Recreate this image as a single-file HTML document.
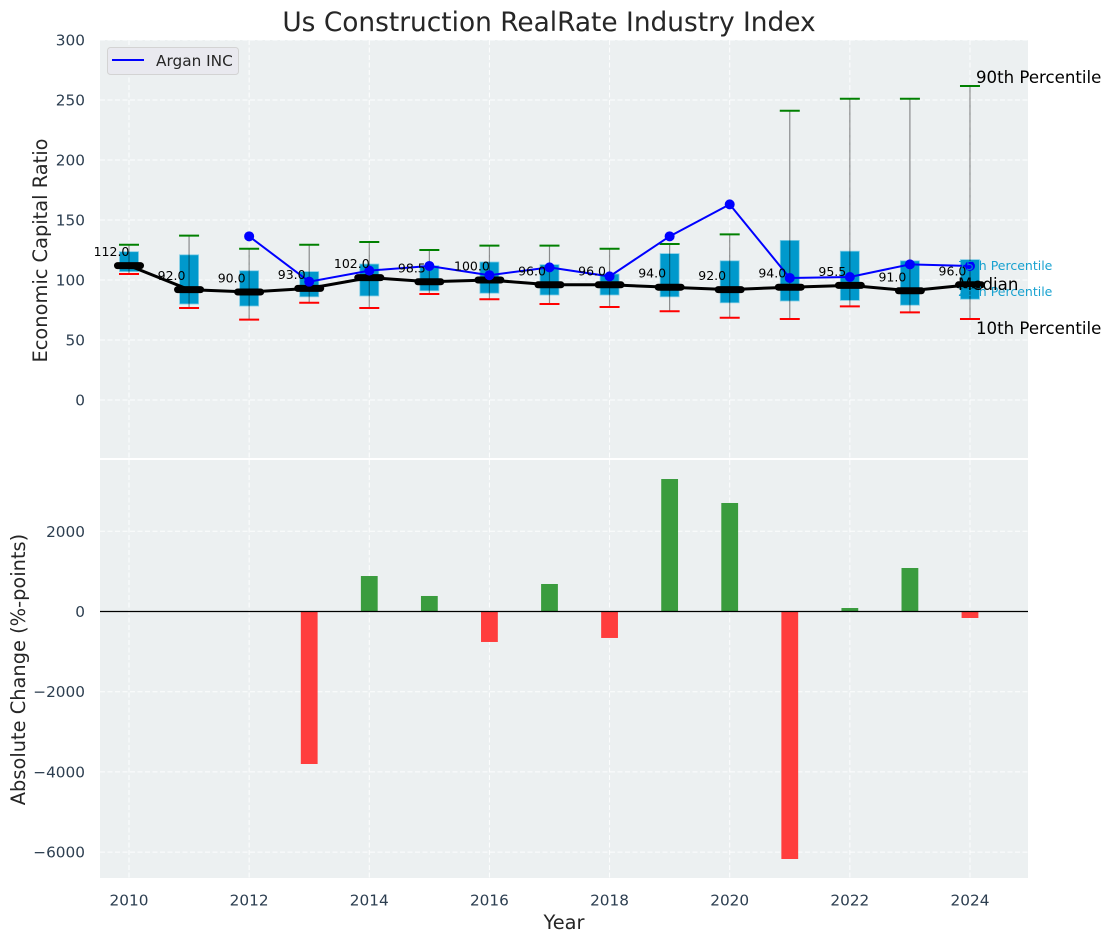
<!DOCTYPE html>
<html>
<head>
<meta charset="utf-8">
<title>Us Construction RealRate Industry Index</title>
<style>
html,body{margin:0;padding:0;background:#fff;}
svg{display:block;font-family:"DejaVu Sans","Liberation Sans",sans-serif;}
</style>
</head>
<body>
<svg id="chart" xmlns="http://www.w3.org/2000/svg" width="1111" height="942" viewBox="0 0 1111 942">
  <rect width="1111" height="942" fill="#ffffff"/>
  <text x="549" y="31" font-size="26.4" text-anchor="middle" fill="#262626">Us Construction RealRate Industry Index</text>
  <rect x="100" y="40" width="928" height="418" fill="#ecf0f1"/>
  <rect x="100" y="460" width="928" height="418" fill="#ecf0f1"/>
  <g id="grid"></g>
  <g id="boxes"></g>
  <g id="bars"></g>
  <g id="lines"></g>
  <g id="ticks" font-size="15.3" fill="#2c3e50"></g>
  <text transform="translate(47,250.5) rotate(-90)" font-size="19.4" text-anchor="middle" fill="#262626">Economic Capital Ratio</text>
  <text transform="translate(25,669.5) rotate(-90)" font-size="19.4" text-anchor="middle" fill="#262626">Absolute Change (%-points)</text>
  <text x="564" y="929" font-size="19.4" text-anchor="middle" fill="#262626">Year</text>
  <g>
    <rect x="107.500" y="47.500" width="131" height="27" rx="3" fill="#e9e9ef" stroke="#d3d3d3" stroke-width="1"/>
    <line x1="112" y1="60" x2="144" y2="60" stroke="#0000ff" stroke-width="2"/>
    <text x="156" y="66" font-size="15.3" fill="#262626">Argan INC</text>
  </g>
  <g id="annotations">
    <text x="958" y="270" font-size="12.5" fill="#0099cc" opacity="0.9">75th Percentile</text>
    <text x="958" y="296" font-size="12.5" fill="#0099cc" opacity="0.9">25th Percentile</text>
    <text x="976" y="83" font-size="16.6" fill="#000000">90th Percentile</text>
    <text x="958" y="290" font-size="16.6" fill="#000000">Median</text>
    <text x="976" y="334" font-size="16.6" fill="#000000">10th Percentile</text>
  </g>
</svg>
<script>
const years = [2010,2011,2012,2013,2014,2015,2016,2017,2018,2019,2020,2021,2022,2023,2024];
const p90 = [129.4,137,126,129.4,131.7,125,128.6,128.6,126,130,138,241,251,251,261.7];
const p75 = [123.6,121,107.7,107,113.3,112,115,112.8,105,122,116,133,124,116,117];
const median = [112,92,90,93,102,98.5,100,96,96,94,92,94,95.5,91,96];
const p25 = [107,80,78.3,86,86.7,91,89,87.5,87.5,86,81,82.5,83,79,84];
const p10 = [105,76.7,67,81,76.7,88.3,84,80,77.5,74,68.5,67.5,78,73,67.5];
const argan = [null,null,136.4,98.6,107.8,111.7,104,110.5,103,136.4,163,101.7,102.5,113,111.7];
const change = [null,null,null,-3803,885,387,-760,686,-660,3304,2706,-6172,87,1085,-162];
const xTickLabels = [2010,2012,2014,2016,2018,2020,2022,2024];
const yTopTicks = [0,50,100,150,200,250,300];
const yBottomTicks = [-6000,-4000,-2000,0,2000];

const NS = 'http://www.w3.org/2000/svg';
function xScale(year){ return 129 + (year - 2010) * 60.07; }
function yTop(v){ return 400 - 1.2 * v; }
function yBottom(v){ return 611.5 - 0.0401 * v; }
function make(tag, parentId, props){
  const el = document.createElementNS(NS, tag);
  for (const k in props) el.setAttribute(k, props[k]);
  document.getElementById(parentId).appendChild(el);
  return el;
}
const gridStyle = {stroke:'#ffffff','stroke-width':1,'stroke-dasharray':'5 2.5','stroke-opacity':0.9};

xTickLabels.forEach(function(t){
  const x = xScale(t);
  const a = make('line','grid',Object.assign({x1:x,x2:x,y1:40,y2:458},gridStyle));
  
  
  const b = make('line','grid',Object.assign({x1:x,x2:x,y1:460,y2:878},gridStyle));
  
  
  const lab = make('text','ticks',{x:x,y:905.5,'text-anchor':'middle'});
  
  
  lab.textContent = t;
});
yTopTicks.forEach(function(t){
  const y = yTop(t);
  const a = make('line','grid',Object.assign({x1:100,x2:1028,y1:y,y2:y},gridStyle));
  
  
  const lab = make('text','ticks',{x:85,y:y+5.5,'text-anchor':'end'});
  
  
  lab.textContent = t;
});
yBottomTicks.forEach(function(t){
  const y = yBottom(t);
  const a = make('line','grid',Object.assign({x1:100,x2:1028,y1:y,y2:y},gridStyle));
  
  
  const lab = make('text','ticks',{x:85,y:y+5.5,'text-anchor':'end'});
  
  
  lab.textContent = String(t).replace('-','\u2212');
});

years.forEach(function(yr,i){
  const x = xScale(yr);
  const box = make('rect','boxes',{x:x-9.5,y:yTop(p75[i]),width:19,height:yTop(p25[i])-yTop(p75[i]),fill:'#0099cc',stroke:'#7fcce5','stroke-width':0.8});
  
  
  const w = make('line','boxes',{x1:x,x2:x,y1:yTop(p90[i]),y2:yTop(p10[i]),stroke:'#000000','stroke-width':1.2,'stroke-opacity':0.42});
  
  
  const c1 = make('line','boxes',{x1:x-10,x2:x+10,y1:yTop(p90[i]),y2:yTop(p90[i]),stroke:'#008000','stroke-width':2});
  
  
  const c2 = make('line','boxes',{x1:x-10,x2:x+10,y1:yTop(p10[i]),y2:yTop(p10[i]),stroke:'#ff0000','stroke-width':2});
  
  

  if (change[i] !== null) {
    const v = change[i];
    const y0 = yBottom(0), y1 = yBottom(v);
    const bar = make('rect','bars',{x:x-8.4,y:Math.min(y0,y1),width:16.8,height:Math.abs(y1-y0),fill:v>=0?'#3a9c3e':'#ff3d3d'});
    
    
  }
});
const zero = make('line','bars',{x1:100,x2:1028,y1:yBottom(0),y2:yBottom(0),stroke:'#000000','stroke-width':1.3});



const medPts = years.map(function(yr,i){ return xScale(yr)+','+yTop(median[i]); }).join(' ');
const medLine = make('polyline','lines',{points:medPts,fill:'none',stroke:'#000000','stroke-width':3});


years.forEach(function(yr,i){
  const x = xScale(yr), y = yTop(median[i]);
  const m = make('line','lines',{x1:x-11.5,x2:x+11.5,y1:y,y2:y,stroke:'#000000','stroke-width':7,'stroke-linecap':'round'});
  
  
});
const arganPts = years.map(function(yr,i){ return argan[i]===null?null:xScale(yr)+','+yTop(argan[i]); }).filter(Boolean).join(' ');
const arganLine = make('polyline','lines',{points:arganPts,fill:'none',stroke:'#0000ff','stroke-width':2});


years.forEach(function(yr,i){
  if (argan[i] === null) return;
  const p = make('circle','lines',{cx:xScale(yr),cy:yTop(argan[i]),r:5,fill:'#0000ff'});
  
  
});
years.forEach(function(yr,i){
  const t = make('text','lines',{x:xScale(yr)-17.5,y:yTop(median[i])-9.5,'font-size':12.5,'text-anchor':'middle',fill:'#000000'});
  
  
  t.textContent = median[i].toFixed(1);
});
</script>
</body>
</html>
